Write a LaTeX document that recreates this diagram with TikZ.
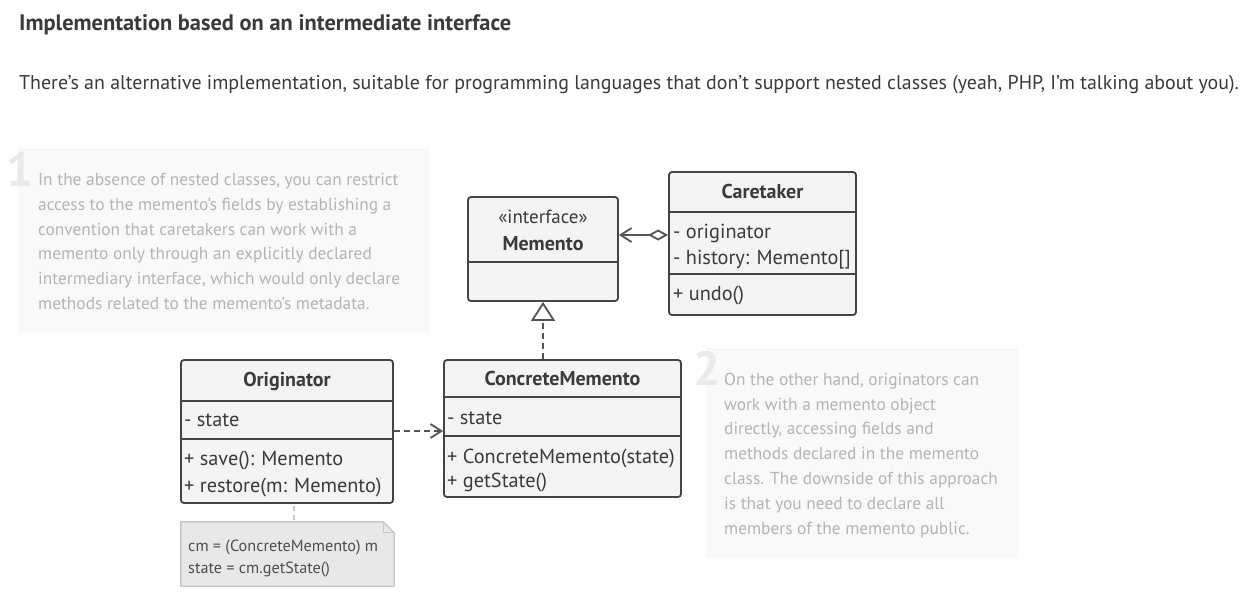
\documentclass[tikz,border=0pt]{standalone}
\usepackage{fontspec}
\setmainfont{PT Sans}
\usetikzlibrary{arrows.meta}
\definecolor{ink}{HTML}{3A3A3A}
\definecolor{boxline}{HTML}{444444}
\definecolor{boxfill}{HTML}{F4F4F4}
\definecolor{tipbg}{HTML}{F9F9F9}
\definecolor{tiptext}{HTML}{B4B4B4}
\definecolor{tipnum}{HTML}{EAEAEA}
\definecolor{notefill}{HTML}{E8E8E8}
\definecolor{noteline}{HTML}{C8C8C8}
\definecolor{arrowcol}{HTML}{555555}
\tikzset{
  cls/.style={draw=boxline, fill=boxfill, line width=1.8pt, rounded corners=3pt, inner sep=0pt},
  divider/.style={draw=boxline, line width=1.8pt},
  txt/.style={anchor=base west, inner sep=0pt, text=ink, font=\fontsize{20.3}{24}\selectfont},
  ttl/.style={anchor=base, inner sep=0pt, text=ink, font=\fontsize{20}{24}\selectfont\bfseries},
  tiptxt/.style={anchor=base west, inner sep=0pt, text=tiptext, font=\fontsize{17.35}{20}\selectfont},
  tipdigit/.style={anchor=base west, inner sep=0pt, text=tipnum, font=\fontsize{48}{50}\selectfont\bfseries},
  codetxt/.style={anchor=base west, inner sep=0pt, text=ink!90, font=\fontsize{16.2}{19}\selectfont},
  conn/.style={draw=arrowcol, line width=1.8pt},
  openbarb/.style={-{Straight Barb[length=11pt,width=14pt,line width=1.8pt]}},
}
\begin{document}
\begin{tikzpicture}[x=1pt,y=-1pt]
\useasboundingbox[fill=white] (0,0) rectangle (1248,595);

% heading and intro
\node[anchor=base west, inner sep=0pt, text=ink, font=\fontsize{22.4}{26}\selectfont\bfseries] (head) at (19,30) {Implementation based on an intermediate interface};
\node[anchor=base west, inner sep=0pt, text=ink, font=\fontsize{19.9}{24}\selectfont] (intro) at (19,89) {There’s an alternative implementation, suitable for programming languages that don’t support nested classes (yeah, PHP, I’m talking about you).};

% tip 1
\node[fill=tipbg, minimum width=412pt, minimum height=185pt, inner sep=0pt] (tip1bg) at (224,240.5) {};
\node[tipdigit] (d1) at (6,186) {1};
\node[tiptxt] (t1a) at (38,185) {In the absence of nested classes, you can restrict};
\node[tiptxt] (t1b) at (38,210) {access to the memento’s fields by establishing a};
\node[tiptxt] (t1c) at (38,235) {convention that caretakers can work with a};
\node[tiptxt] (t1d) at (38,259.5) {memento only through an explicitly declared};
\node[tiptxt] (t1e) at (38,284) {intermediary interface, which would only declare};
\node[tiptxt] (t1f) at (38,309) {methods related to the memento’s metadata.};

% tip 2
\node[fill=tipbg, minimum width=312pt, minimum height=210pt, inner sep=0pt] (tip2bg) at (862,453) {};
\node[tipdigit] (d2) at (693,385) {2};
\node[tiptxt] (t2a) at (724,385) {On the other hand, originators can};
\node[tiptxt] (t2b) at (724,410) {work with a memento object};
\node[tiptxt] (t2c) at (724,434.5) {directly, accessing fields and};
\node[tiptxt] (t2d) at (724,459) {methods declared in the memento};
\node[tiptxt] (t2e) at (724,484) {class. The downside of this approach};
\node[tiptxt] (t2f) at (724,509) {is that you need to declare all};
\node[tiptxt] (t2g) at (724,534) {members of the memento public.};

% Memento interface
\node[cls, minimum width=150pt, minimum height=104pt] (memento) at (543,249) {};
\draw[divider] (memento.west |- 0,262) -- (memento.east |- 0,262);
\node[anchor=base, inner sep=0pt, text=ink, font=\fontsize{19}{22}\selectfont] (mst) at (543,223) {«interface»};
\node[ttl] (mname) at (543,250) {Memento};

% Caretaker
\node[cls, minimum width=187pt, minimum height=143pt] (caretaker) at (762.5,243.5) {};
\draw[divider] (caretaker.west |- 0,212) -- (caretaker.east |- 0,212);
\draw[divider] (caretaker.west |- 0,274) -- (caretaker.east |- 0,274);
\node[ttl] (cname) at (762.5,198) {Caretaker};
\node[txt] (c1) at (673,238) {- originator};
\node[txt] (c2) at (673,264) {- history: Memento[]};
\node[txt] (c3) at (673,300) {+ undo()};

% Originator
\node[cls, minimum width=212pt, minimum height=143pt] (originator) at (287,431.5) {};
\draw[divider] (originator.west |- 0,401) -- (originator.east |- 0,401);
\draw[divider] (originator.west |- 0,439) -- (originator.east |- 0,439);
\node[ttl] (oname) at (287,386) {Originator};
\node[txt] (o1) at (184,426) {- state};
\node[txt] (o2) at (184,465) {+ save(): Memento};
\node[txt] (o3) at (184,492) {+ restore(m: Memento)};

% ConcreteMemento
\node[cls, minimum width=237pt, minimum height=137pt] (concrete) at (562.5,428.5) {};
\draw[divider] (concrete.west |- 0,397) -- (concrete.east |- 0,397);
\draw[divider] (concrete.west |- 0,436) -- (concrete.east |- 0,436);
\node[ttl] (cmname) at (562.5,385) {ConcreteMemento};
\node[txt] (cm1) at (447,424) {- state};
\node[txt] (cm2) at (447,463) {+ ConcreteMemento(state)};
\node[txt] (cm3) at (447,487) {+ getState()};

% code note
\node[minimum width=213pt, minimum height=64pt, inner sep=0pt] (note) at (287.5,554) {};
\draw[fill=notefill, draw=noteline, line width=1.4pt, line join=round]
  (note.north west) -- ([xshift=-11pt]note.north east) -- ([yshift=-11pt]note.north east) -- (note.south east) -- (note.south west) -- cycle;
\draw[draw=noteline, line width=1.2pt] ([xshift=-11pt]note.north east) -- ([xshift=-11pt,yshift=-11pt]note.north east) -- ([yshift=-11pt]note.north east);
\node[codetxt] (n1) at (188,551) {cm = (ConcreteMemento) m};
\node[codetxt] (n2) at (188,573) {state = cm.getState()};

% connectors
\draw[conn, {Diamond[open,length=20pt,width=11pt,line width=1.8pt]}-{Straight Barb[length=11pt,width=14pt,line width=1.8pt]}]
  (caretaker.west |- 0,235) -- (memento.east |- 0,235);
\draw[conn, dash pattern=on 6pt off 4pt, -{Triangle[open,length=19pt,width=24pt,line width=1.8pt]}]
  (concrete.north -| 543,0) -- (memento.south -| 543,0);
\draw[conn, dash pattern=on 6pt off 4pt, openbarb]
  (originator.east |- 0,431) -- (concrete.west |- 0,431);
\draw[draw=noteline, line width=1.4pt, dash pattern=on 5pt off 4pt, shorten <=2pt, shorten >=2pt]
  (originator.south -| 294,0) -- (note.north -| 294,0);
\end{tikzpicture}
\end{document}
